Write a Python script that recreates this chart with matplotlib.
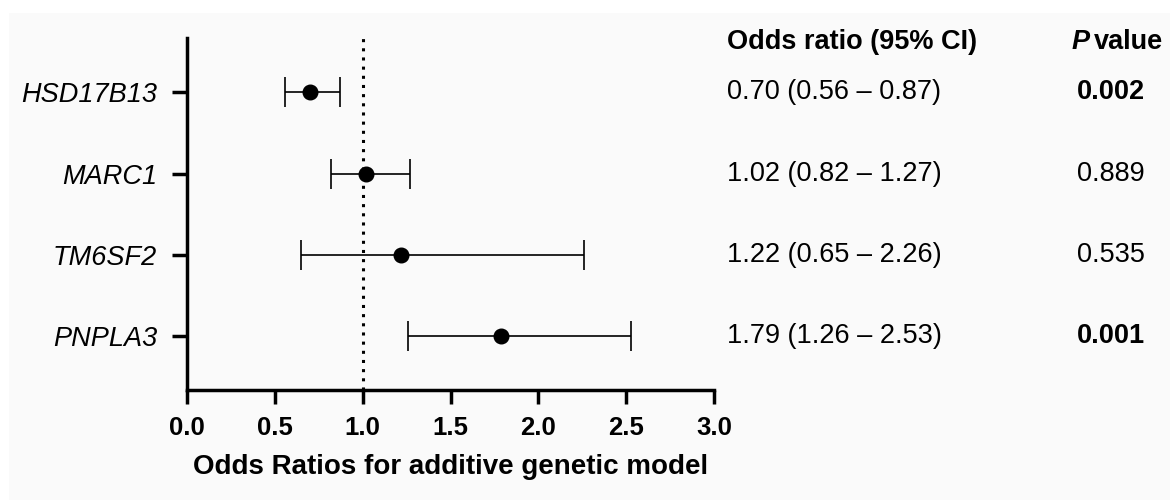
import matplotlib
matplotlib.use("Agg")
import matplotlib.pyplot as plt
import matplotlib.transforms as mtransforms
from matplotlib.patches import Rectangle

genes = ["HSD17B13", "MARC1", "TM6SF2", "PNPLA3"]
odds = [0.70, 1.02, 1.22, 1.79]
ci_low = [0.56, 0.82, 0.65, 1.26]
ci_high = [0.87, 1.27, 2.26, 2.53]
or_labels = ["0.70 (0.56 – 0.87)", "1.02 (0.82 – 1.27)", "1.22 (0.65 – 2.26)", "1.79 (1.26 – 2.53)"]
p_labels = ["0.002", "0.889", "0.535", "0.001"]
p_bold = [True, False, False, True]
xticks = [0.0, 0.5, 1.0, 1.5, 2.0, 2.5, 3.0]

plt.rcParams['font.family'] = ['Liberation Sans', 'DejaVu Sans']

W, H = 1170, 500
fig = plt.figure(figsize=(W / 100, H / 100), dpi=100)
fig.patch.set_facecolor("white")
fig.patches.append(Rectangle((9 / W, 0), 1 - 9 / W, 1 - 13 / H, transform=fig.transFigure,
                             facecolor="#fafafa", edgecolor="none", zorder=-10))

ax = fig.add_axes([187 / W, 1 - 390 / H, (714 - 187) / W, (390 - 38) / H])
ax.set_facecolor("none")

ypos = list(range(len(genes)))
xerr = [[o - l for o, l in zip(odds, ci_low)], [h - o for o, h in zip(odds, ci_high)]]
ax.errorbar(odds, ypos, xerr=xerr, fmt="o", color="black", ecolor="black",
            markersize=10.5, elinewidth=1.2, capsize=10.5, capthick=1.2, zorder=3)
ax.axvline(1.0, color="black", linestyle=(0, (1, 2)), linewidth=2.2, zorder=1)

ax.set_xlim(0, 3.0)
ax.set_ylim(3.66, -0.67)
ax.set_xticks(xticks)
ax.set_xticklabels([f"{t:.1f}" for t in xticks], fontsize=18.5, fontweight="bold")
ax.set_yticks(ypos)
ax.set_yticklabels(genes, fontsize=19.5, fontstyle="italic")
ax.tick_params(axis="x", length=10, width=2.5, pad=9)
ax.tick_params(axis="y", length=10.5, width=2.5, pad=11)
for s in ["top", "right"]:
    ax.spines[s].set_visible(False)
for s in ["left", "bottom"]:
    ax.spines[s].set_linewidth(2.5)
ax.set_xlabel("Odds Ratios for additive genetic model", fontsize=20, fontweight="bold", labelpad=10)

trans = mtransforms.blended_transform_factory(fig.transFigure, ax.transData)
FS = 19.5
fig.text(727 / W, 1 - 42 / H, "Odds ratio (95% CI)", fontsize=FS, fontweight="bold", va="center", ha="left")
tv = fig.text(1163 / W, 1 - 42 / H, "value", fontsize=FS, fontweight="bold", va="center", ha="right")
fig.canvas.draw()
bb = tv.get_window_extent()
fig.text((bb.x0 - 4) / W, 1 - 42 / H, "P", fontsize=FS, fontweight="bold", fontstyle="italic",
         va="center", ha="right")
for i, (ol, pl, pb) in enumerate(zip(or_labels, p_labels, p_bold)):
    fig.text(727 / W, i, ol, fontsize=FS, va="center", ha="left", transform=trans)
    fig.text(1145 / W, i, pl, fontsize=FS, va="center", ha="right",
             fontweight="bold" if pb else "normal", transform=trans)

fig.savefig("out.png", dpi=100)
